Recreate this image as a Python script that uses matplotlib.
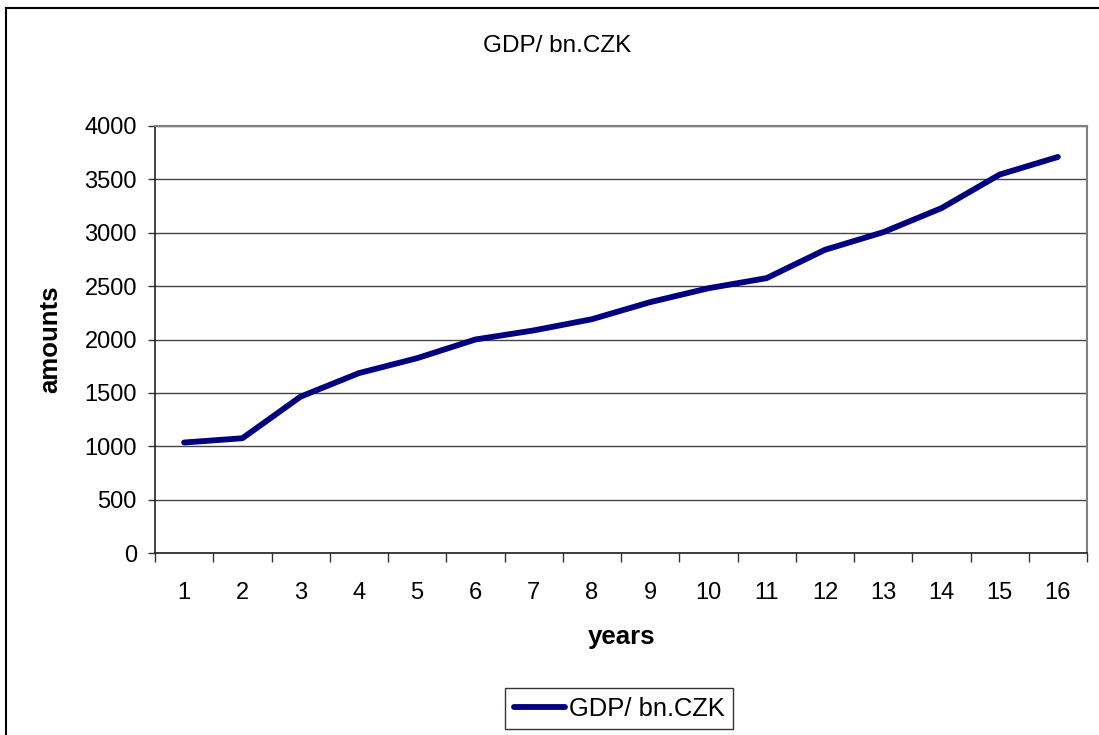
import matplotlib.pyplot as plt
from matplotlib.lines import Line2D
import numpy as np

plt.rcParams['font.family'] = ['Liberation Sans', 'DejaVu Sans']

# data
years = list(range(1, 17))
gdp = [1035, 1075, 1465, 1685, 1825, 2000, 2085, 2190, 2350, 2480, 2575,
       2840, 3005, 3230, 3545, 3710]
series_name = 'GDP/ bn.CZK'

fig = plt.figure(figsize=(10.99, 7.35), dpi=100)
ax = fig.add_axes([155 / 1099, 1 - 553 / 735, (1087 - 155) / 1099, (553 - 126) / 735])

ax.plot(years, gdp, color='#000080', linewidth=4.2, solid_capstyle='round',
        solid_joinstyle='round', label=series_name, zorder=3)

# axes
ax.set_xlim(0.5, 16.5)
ax.set_ylim(0, 4000)
ax.set_yticks(np.arange(0, 4001, 500))
ax.set_xticks(years)
ax.set_xticks(np.arange(0.5, 17, 1), minor=True)
ax.tick_params(axis='x', which='major', length=0, pad=21, labelsize=17)
ax.tick_params(axis='x', which='minor', length=6.5, width=1, direction='out', color='#333333')
ax.tick_params(axis='y', which='major', length=5, width=1, direction='out', pad=8,
               labelsize=17, color='#333333')
ax.grid(axis='y', color='#444444', linewidth=1)
ax.set_axisbelow(True)

for side in ['top', 'right']:
    ax.spines[side].set_color('#808080')
    ax.spines[side].set_linewidth(1.5)
for side in ['left', 'bottom']:
    ax.spines[side].set_color('#222222')
    ax.spines[side].set_linewidth(1.2)

ax.set_xlabel('years', fontsize=18.5, fontweight='bold', labelpad=15)
ax.set_ylabel('amounts', fontsize=18.5, fontweight='bold', labelpad=16)

fig.text(557 / 1099, 1 - 46 / 735, series_name, ha='center', va='center', fontsize=17.5)

leg = fig.legend(loc='center', bbox_to_anchor=(619 / 1099, 1 - 708.5 / 735),
                 fontsize=18.4, frameon=True, fancybox=False, handlelength=2.0,
                 handletextpad=0.16, borderpad=0.32, borderaxespad=0)
leg.get_frame().set_edgecolor('black')
leg.get_frame().set_linewidth(1)

# chart border, only top and left edges are visible (rest is cropped off)
bx, by = 6 / 1099, 1 - 7.5 / 735
fig.add_artist(Line2D([bx, 1.01], [by, by], transform=fig.transFigure,
                      color='black', linewidth=1.5))
fig.add_artist(Line2D([bx, bx], [by, -0.01], transform=fig.transFigure,
                      color='black', linewidth=1.5))

fig.savefig('out.png', dpi=100)
